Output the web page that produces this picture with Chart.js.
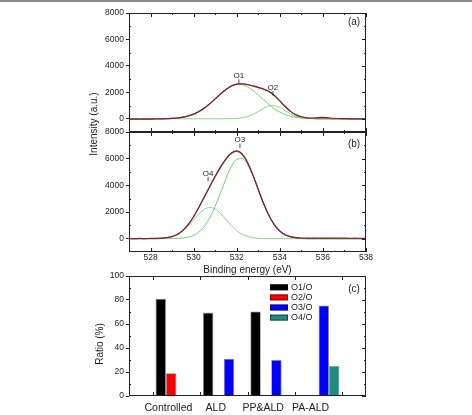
<!DOCTYPE html>
<html>
<head>
<meta charset="utf-8">
<script src="https://cdn.jsdelivr.net/npm/chart.js@4.4.1/dist/chart.umd.min.js"></script>
<style>
  body { margin: 0; background: #fff; }
  #wrap { position: relative; width: 472px; height: 415px; overflow: hidden; font-family: "Liberation Sans", Arial, sans-serif; }
  #topline { position: absolute; left: 0; top: 0; width: 472px; height: 0; border-top: 2px solid #8a8a8a; }
  canvas { position: absolute; left: 0; }
  .ytitle { position: absolute; font-size: 10px; color: #222; white-space: nowrap; transform: translate(-50%, -50%) rotate(-90deg); }
</style>
</head>
<body>
<div id="wrap">
  <div id="topline"></div>
  <canvas id="chartA" width="472" height="140" style="top:0"></canvas>
  <canvas id="chartB" width="472" height="160" style="top:120px"></canvas>
  <canvas id="chartC" width="472" height="153" style="top:262px"></canvas>
  <div class="ytitle" style="left:93px; top:124px">Intensity (a.u.)</div>
  <div class="ytitle" style="left:99px; top:344px">Ratio (%)</div>
</div>
<script>
// binding energy grid (eV)
const energy = [527, 527.25, 527.5, 527.75, 528, 528.25, 528.5, 528.75, 529, 529.25,
    529.5, 529.75, 530, 530.25, 530.5, 530.75, 531, 531.25, 531.5, 531.75,
    532, 532.25, 532.5, 532.75, 533, 533.25, 533.5, 533.75, 534, 534.25,
    534.5, 534.75, 535, 535.25, 535.5, 535.75, 536, 536.25, 536.5, 536.75,
    537, 537.25, 537.5, 537.75, 538];

// panel (a)
const rawA = [-30, -25, -35, -20, -25, -15, -10, 5, 25, 60,
    120, 215, 350, 555, 810, 1140, 1505, 1880, 2215, 2475,
    2625, 2650, 2590, 2490, 2380, 2250, 2060, 1760, 1355, 925,
    560, 300, 150, 75, 60, 90, 100, 70, 40, 20,
    10, 0, -5, -10, -15];
const fitA = [0, 0, 0, 0, 1, 3, 7, 16, 33, 65,
    121, 212, 352, 551, 814, 1138, 1502, 1874, 2210, 2467,
    2611, 2640, 2577, 2472, 2357, 2228, 2038, 1742, 1349, 927,
    558, 294, 137, 58, 23, 8, 3, 1, 0, 0,
    0, 0, 0, 0, 0];
const o1A = [0, 0, 0, 0, 1, 3, 7, 16, 33, 65,
    121, 212, 352, 551, 814, 1138, 1502, 1874, 2208, 2460,
    2588, 2574, 2418, 2147, 1801, 1427, 1069, 756, 506, 320,
    191, 108, 57, 29, 14, 6, 3, 1, 0, 0,
    0, 0, 0, 0, 0];
const o2A = [0, 0, 0, 0, 0, 0, 0, 0, 0, 0,
    0, 0, 0, 0, 0, 0, 0, 0, 2, 7,
    23, 66, 159, 325, 556, 801, 969, 986, 843, 607,
    367, 186, 80, 29, 9, 2, 0, 0, 0, 0,
    0, 0, 0, 0, 0];

// panel (b)
const rawB = [10, 0, 15, 5, 20, 25, 40, 75, 160, 330,
    625, 1065, 1660, 2375, 3150, 3930, 4680, 5380, 5990, 6430,
    6580, 6350, 5720, 4780, 3690, 2620, 1720, 1040, 580, 300,
    150, 80, 50, 40, 40, 50, 45, 35, 40, 50,
    40, 30, 35, 25, 30];
const fitB = [0, 0, 0, 1, 3, 9, 25, 67, 155, 326,
    618, 1057, 1647, 2354, 3124, 3899, 4645, 5344, 5954, 6395,
    6553, 6333, 5717, 4785, 3696, 2627, 1717, 1030, 566, 286,
    133, 56, 22, 8, 3, 1, 0, 0, 0, 0,
    0, 0, 0, 0, 0];
const o3B = [0, 0, 0, 0, 0, 0, 0, 2, 6, 18,
    47, 112, 247, 497, 920, 1559, 2422, 3454, 4516, 5416,
    5957, 6008, 5558, 4716, 3669, 2618, 1714, 1029, 566, 286,
    133, 56, 22, 8, 3, 1, 0, 0, 0, 0,
    0, 0, 0, 0, 0];
const o4B = [0, 0, 0, 1, 3, 9, 25, 65, 149, 308,
    571, 945, 1400, 1857, 2204, 2340, 2223, 1890, 1438, 979,
    596, 325, 159, 69, 27, 9, 3, 1, 0, 0,
    0, 0, 0, 0, 0, 0, 0, 0, 0, 0,
    0, 0, 0, 0, 0];

const intensityTicks = [0, 2000, 4000, 6000, 8000];
const energyTicks = [528, 530, 532, 534, 536, 538];

// peak markers
const peakNamesA = ['O1', 'O2'];
const peakEnergyA = [532.1, 533.68];
const peakHeightA = [2640, 1750];
const peakNamesB = ['O3', 'O4'];
const peakEnergyB = [532.15, 530.67];
const peakHeightB = [6800, 4300];

// panel (c)
const barCategories = ['Controlled', 'ALD', 'PP&ALD', 'PA-ALD'];
const o1Ratio = [81, 69.5, 70.5, null];
const o2Ratio = [19, null, null, null];
const o3Ratio = [null, 31, 30, 75.5];
const o4Ratio = [null, null, null, 25];
const ratioTicks = [0, 20, 40, 60, 80, 100];

const FONT = '"Liberation Sans", Arial, sans-serif';
const INK = '#222';
Chart.defaults.font.family = FONT;
Chart.defaults.color = INK;

function toPoints(xs, ys) {
    return xs.map((x, i) => ({ x: x, y: ys[i] }));
}

// box around the plot, inward ticks, panel tag, peak markers, legend
const framePlugin = {
    id: 'frame',
    afterDatasetsDraw(chart, args, opts) {
        const ctx = chart.ctx;
        const a = chart.chartArea;
        const xs = chart.scales.x, ys = chart.scales.y;
        const line = (x1, y1, x2, y2) => {
            ctx.beginPath(); ctx.moveTo(x1, y1); ctx.lineTo(x2, y2); ctx.stroke();
        };
        ctx.save();
        ctx.strokeStyle = INK;
        ctx.lineWidth = 1;
        ctx.strokeRect(a.left + 0.5, a.top + 0.5, a.right - a.left - 1, a.bottom - a.top - 1);

        (opts.xMajor || []).forEach(v => {
            const p = Math.round(xs.getPixelForValue(v)) + 0.5;
            line(p, a.bottom, p, a.bottom - 4);
            line(p, a.top, p, a.top + 4);
        });
        (opts.xMinor || []).forEach(v => {
            const p = Math.round(xs.getPixelForValue(v)) + 0.5;
            line(p, a.bottom, p, a.bottom - 2);
            line(p, a.top, p, a.top + 2);
        });
        (opts.yMajor || []).forEach(v => {
            const p = Math.round(ys.getPixelForValue(v)) + 0.5;
            line(a.right, p, a.right - 4, p);
        });
        (opts.yMinor || []).forEach(v => {
            const p = Math.round(ys.getPixelForValue(v)) + 0.5;
            line(a.left, p, a.left + 2, p);
            line(a.right, p, a.right - 2, p);
        });

        ctx.fillStyle = INK;
        if (opts.tag) {
            ctx.font = '10px ' + FONT;
            ctx.textAlign = 'center';
            ctx.textBaseline = 'middle';
            ctx.fillText(opts.tag, a.right - 12, a.top + opts.tagDy);
        }

        if (opts.peaks) {
            ctx.font = '8px ' + FONT;
            ctx.textAlign = 'center';
            ctx.textBaseline = 'bottom';
            ctx.lineWidth = 0.8;
            opts.peaks.names.forEach((name, i) => {
                const px = xs.getPixelForValue(opts.peaks.x[i]);
                const py = ys.getPixelForValue(opts.peaks.y[i]);
                line(px, py, px, py - 4.5);
                ctx.fillText(name, px, py - 4);
            });
        }

        if (opts.legend) {
            ctx.font = '9px ' + FONT;
            ctx.textAlign = 'left';
            ctx.textBaseline = 'middle';
            ctx.lineWidth = 0.8;
            chart.data.datasets.forEach((ds, i) => {
                const x = a.right - opts.legend.right;
                const y = a.top + opts.legend.top + i * 10.1;
                ctx.fillStyle = ds.backgroundColor;
                ctx.fillRect(x, y - 3, 18, 6);
                ctx.strokeStyle = 'rgba(0,0,0,0.6)';
                ctx.strokeRect(x + 0.5, y - 2.5, 17, 5);
                ctx.fillStyle = INK;
                ctx.fillText(ds.label, x + 21, y);
            });
        }
        ctx.restore();
    }
};

function plainNumber(v) {
    return String(v);
}

function intensityAxis() {
    return {
        min: -1000,
        max: 8000,
        afterBuildTicks: s => { s.ticks = intensityTicks.map(v => ({ value: v })); },
        afterFit: s => { s.width = 129; },
        border: { display: false },
        grid: { drawOnChartArea: false, tickLength: 3, color: INK },
        ticks: { font: { size: 8.5 }, color: INK, padding: 2, callback: plainNumber }
    };
}

function spectrumDatasets(raw, fit, compA, compB) {
    return [
        { data: toPoints(energy, raw), borderColor: '#7a1f47', borderWidth: 1.2 },
        { data: toPoints(energy, fit), borderColor: '#8c8a2c', borderWidth: 1.2 },
        { data: toPoints(energy, compA), borderColor: '#78cc78', borderWidth: 1 },
        { data: toPoints(energy, compB), borderColor: '#8fcf8f', borderWidth: 1 }
    ];
}

const lineElements = {
    point: { radius: 0 },
    line: { cubicInterpolationMode: 'monotone' }
};

const frameEnergy = {
    xMajor: energyTicks,
    xMinor: [527, 529, 531, 533, 535, 537],
    yMajor: intensityTicks,
    yMinor: [1000, 3000, 5000, 7000]
};

new Chart(document.getElementById('chartA'), {
    type: 'line',
    data: { datasets: spectrumDatasets(rawA, fitA, o1A, o2A) },
    options: {
        responsive: false,
        animation: false,
        layout: { padding: { left: 0, right: 106, top: 13, bottom: 8 } },
        elements: lineElements,
        plugins: {
            legend: { display: false },
            tooltip: { enabled: false },
            frame: Object.assign({}, frameEnergy, {
                tag: '(a)', tagDy: 9,
                peaks: { names: peakNamesA, x: peakEnergyA, y: peakHeightA }
            })
        },
        scales: {
            x: { type: 'linear', min: 527, max: 538, display: false },
            y: intensityAxis()
        }
    },
    plugins: [framePlugin]
});

new Chart(document.getElementById('chartB'), {
    type: 'line',
    data: { datasets: spectrumDatasets(rawB, fitB, o3B, o4B) },
    options: {
        responsive: false,
        animation: false,
        layout: { padding: { left: 0, right: 106, top: 12, bottom: 0 } },
        elements: lineElements,
        plugins: {
            legend: { display: false },
            tooltip: { enabled: false },
            frame: Object.assign({}, frameEnergy, {
                tag: '(b)', tagDy: 12,
                peaks: { names: peakNamesB, x: peakEnergyB, y: peakHeightB }
            })
        },
        scales: {
            x: {
                type: 'linear',
                min: 527,
                max: 538,
                afterBuildTicks: s => { s.ticks = energyTicks.map(v => ({ value: v })); },
                afterFit: s => { s.height = 28; },
                border: { display: false },
                grid: { display: false, drawTicks: false },
                ticks: { font: { size: 8.5 }, color: INK, padding: 1, autoSkip: false, maxRotation: 0, callback: plainNumber },
                title: {
                    display: true,
                    text: 'Binding energy (eV)',
                    font: { size: 10 },
                    color: INK,
                    padding: { top: 0, bottom: 4 }
                }
            },
            y: intensityAxis()
        }
    },
    plugins: [framePlugin]
});

const barSlots = barCategories.map((c, i) => i + 1);

new Chart(document.getElementById('chartC'), {
    type: 'bar',
    data: {
        datasets: [
            { label: 'O1/O', data: toPoints(barSlots, o1Ratio), backgroundColor: '#000000' },
            { label: 'O2/O', data: toPoints(barSlots, o2Ratio), backgroundColor: '#ff0000' },
            { label: 'O3/O', data: toPoints(barSlots, o3Ratio), backgroundColor: '#0000ff' },
            { label: 'O4/O', data: toPoints(barSlots, o4Ratio), backgroundColor: '#1e8a80' }
        ]
    },
    options: {
        responsive: false,
        animation: false,
        layout: { padding: { left: 0, right: 106, top: 14, bottom: 0 } },
        datasets: {
            bar: {
                categoryPercentage: 0.88,
                barPercentage: 1,
                borderWidth: 0.8,
                borderColor: 'rgba(0,0,0,0.45)'
            }
        },
        plugins: {
            legend: { display: false },
            tooltip: { enabled: false },
            frame: {
                xMajor: [0.5, 1.5, 2.5, 3.5, 4.5],
                yMajor: ratioTicks,
                yMinor: [10, 30, 50, 70, 90],
                tag: '(c)', tagDy: 13,
                legend: { right: 96, top: 11.3 }
            }
        },
        scales: {
            x: {
                type: 'linear',
                min: 0,
                max: 5,
                offset: false,
                afterBuildTicks: s => { s.ticks = barSlots.map(v => ({ value: v })); },
                afterFit: s => { s.height = 19; },
                border: { display: false },
                grid: { display: false, drawTicks: false },
                ticks: {
                    callback: v => barCategories[v - 1],
                    font: { size: 10.5 },
                    color: INK,
                    padding: 6,
                    labelOffset: -8,
                    autoSkip: false,
                    maxRotation: 0
                }
            },
            y: {
                min: 0,
                max: 100,
                afterBuildTicks: s => { s.ticks = ratioTicks.map(v => ({ value: v })); },
                afterFit: s => { s.width = 129; },
                border: { display: false },
                grid: { drawOnChartArea: false, tickLength: 3, color: INK },
                ticks: { font: { size: 8.5 }, color: INK, padding: 2, callback: plainNumber }
            }
        }
    },
    plugins: [framePlugin]
});
</script>
</body>
</html>
